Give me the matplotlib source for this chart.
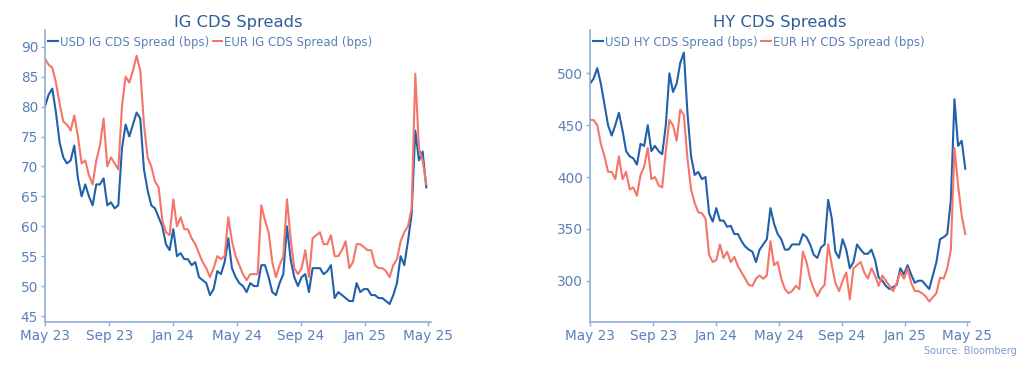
import matplotlib
matplotlib.use("Agg")
import matplotlib.pyplot as plt
import matplotlib.dates as mdates
import pandas as pd

plt.rcParams['font.family'] = ['DejaVu Sans']

# weekly observations starting May 1, 2023
dates = pd.date_range("2023-05-01", periods=105, freq="7D")

usd_ig = [80, 82, 83, 79, 74, 71.5, 70.5, 71, 73.5, 68,
          65, 67, 65, 63.5, 67, 67, 68, 63.5, 64, 63,
          63.5, 73, 77, 75, 77, 79, 78, 69.5, 66, 63.5,
          63, 61.5, 60, 57, 56, 59.5, 55, 55.5, 54.5, 54.5,
          53.5, 54, 51.5, 51, 50.5, 48.5, 49.5, 52.5, 52, 54,
          58, 53, 51.5, 50.5, 50, 49, 50.5, 50, 50, 53.5,
          53.5, 51.5, 49, 48.5, 50.5, 52, 60, 54.5, 51.5, 50,
          51.5, 52, 49, 53, 53, 53, 52, 52.5, 53.5, 48,
          49, 48.5, 48, 47.5, 47.5, 50.5, 49, 49.5, 49.5, 48.5,
          48.5, 48, 48, 47.5, 47, 48.5, 50.5, 55, 53.5, 57.5,
          62, 76, 71, 72.5, 66.5]

eur_ig = [88, 87, 86.5, 84, 80.5, 77.5, 77, 76, 78.5, 75,
          70.5, 71, 68.5, 67, 71, 73.5, 78, 70, 71.5, 70.5,
          69.5, 80, 85, 84, 86, 88.5, 86, 77, 71.5, 70,
          67.5, 66.5, 61, 59, 58.5, 64.5, 60, 61.5, 59.5, 59.5,
          58, 57, 55.5, 54, 53, 51.5, 53, 55, 54.5, 55,
          61.5, 57.5, 55, 53.5, 52, 51, 52, 52, 52, 63.5,
          61, 59, 54, 51.5, 53.5, 55, 64.5, 58, 53, 52,
          53, 56, 51.5, 58, 58.5, 59, 57, 57, 58.5, 55,
          55, 56, 57.5, 53, 54, 57, 57, 56.5, 56, 56,
          53.5, 53, 53, 52.5, 51.5, 53.5, 54.5, 57.5, 59, 60,
          63, 85.5, 73, 71, 67]

usd_hy = [490, 495, 505, 490, 470, 450, 440, 450, 462, 445,
          425, 420, 418, 412, 432, 430, 450, 425, 430, 425,
          422, 450, 500, 482, 490, 510, 520, 462, 420, 402,
          405, 398, 400, 365, 357, 370, 358, 358, 352, 353,
          345, 345, 338, 333, 330, 328, 318, 330, 335, 340,
          370, 355, 345, 340, 330, 330, 335, 335, 335, 345,
          342, 335, 325, 322, 332, 335, 378, 360, 328, 322,
          340, 330, 312, 318, 335, 330, 326, 326, 330, 320,
          303, 300, 295, 292, 294, 296, 312, 306, 315, 306,
          298, 300, 300, 296, 292, 305, 318, 340, 342, 345,
          378, 475, 430, 435, 408]

eur_hy = [455, 455, 450, 432, 420, 405, 405, 398, 420, 398,
          405, 388, 390, 382, 402, 410, 428, 398, 400, 392,
          390, 425, 455, 450, 435, 465, 460, 418, 388, 375,
          366, 365, 360, 325, 318, 320, 335, 322, 328, 318,
          323, 314, 308, 302, 296, 295, 302, 305, 302, 305,
          338, 315, 318, 302, 292, 288, 290, 295, 292, 328,
          318, 302, 292, 285, 292, 296, 335, 315, 298, 290,
          300, 308, 282, 312, 315, 318, 308, 302, 312, 305,
          295, 305, 300, 295, 290, 298, 308, 302, 312, 298,
          290, 290, 288, 285, 280, 284, 288, 303, 302, 312,
          330, 428, 392, 363, 345]

tick_labels_fmt = "%b %y"

BLUE = "#2160AA"
RED = "#F4766B"
TITLE_C = "#2E5E9E"
TICK_C = "#5B80B8"
SPINE_C = "#8FAED8"

fig = plt.figure(figsize=(10.24, 3.68), dpi=100)
fig.patch.set_facecolor("white")

panels = [
    dict(rect=[0.0439, 0.125, 0.377, 0.7935], title="IG CDS Spreads",
         usd=usd_ig, eur=eur_ig,
         lab_usd="USD IG CDS Spread (bps)", lab_eur="EUR IG CDS Spread (bps)",
         ylim=(44.0, 92.8), yticks=list(range(45, 91, 5))),
    dict(rect=[0.5762, 0.125, 0.371, 0.7935], title="HY CDS Spreads",
         usd=usd_hy, eur=eur_hy,
         lab_usd="USD HY CDS Spread (bps)", lab_eur="EUR HY CDS Spread (bps)",
         ylim=(260.2, 541.8), yticks=[300, 350, 400, 450, 500]),
]

for p in panels:
    ax = fig.add_axes(p["rect"])
    ax.plot(dates, p["usd"], color=BLUE, lw=1.5, label=p["lab_usd"])
    ax.plot(dates, p["eur"], color=RED, lw=1.5, label=p["lab_eur"])
    ax.set_xlim(pd.Timestamp("2023-05-01"), pd.Timestamp("2025-05-07"))
    ax.set_ylim(*p["ylim"])
    ax.set_yticks(p["yticks"])
    ax.xaxis.set_major_locator(mdates.MonthLocator(bymonth=[1, 5, 9]))
    ax.xaxis.set_major_formatter(mdates.DateFormatter(tick_labels_fmt))
    for s in ["top", "right"]:
        ax.spines[s].set_visible(False)
    for s in ["left", "bottom"]:
        ax.spines[s].set_color(SPINE_C)
        ax.spines[s].set_linewidth(1.2)
    ax.tick_params(axis="both", colors=SPINE_C, labelcolor=TICK_C,
                   labelsize=9.8, length=3, width=1, pad=2)
    ax.set_title(p["title"], color=TITLE_C, fontsize=11.8, pad=-2.5)
    leg = ax.legend(loc="upper left", bbox_to_anchor=(0.005, 0.985), ncol=2,
                    frameon=False, fontsize=8.5, handlelength=0.8,
                    handletextpad=0.2, columnspacing=0.3, borderaxespad=0,
                    borderpad=0.1)
    for t in leg.get_texts():
        t.set_color(TICK_C)

fig.text(0.993, 0.046, "Source: Bloomberg", ha="right", va="center",
         fontsize=7, color="#7A9BCB")

fig.savefig("out.png", dpi=100)
